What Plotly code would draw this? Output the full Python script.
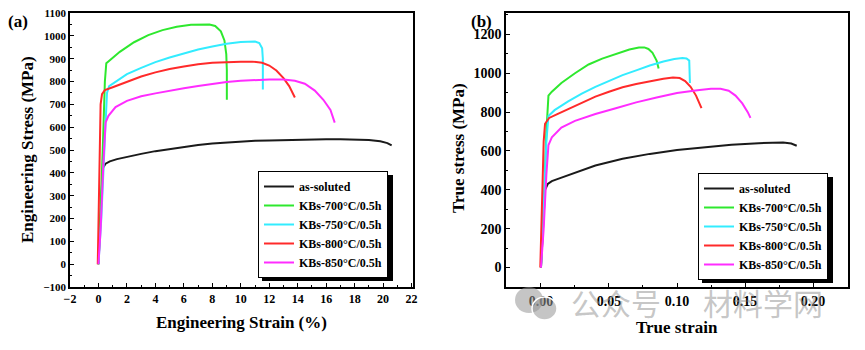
import plotly.graph_objects as go

W, H = 865, 350

names = ["as-soluted", "KBs-700°C/0.5h", "KBs-750°C/0.5h", "KBs-800°C/0.5h", "KBs-850°C/0.5h"]
colors = ["#1a1a1a", "#2ee82e", "#33ecff", "#ff2a2a", "#ff2cff"]

# ---- (a) engineering stress-strain ----
eng_x_soluted = [0, 0.15, 0.3, 0.5, 0.8, 1.3, 2, 3, 4, 5, 6, 7, 8, 9, 10, 11, 12, 13, 14, 15, 16, 17, 18, 19, 19.8, 20.3, 20.6]
eng_y_soluted = [0, 220, 420, 440, 450, 460, 470, 483, 495, 505, 515, 522, 528, 533, 537, 540, 542, 544, 545, 546, 547, 547, 546, 544, 538, 530, 520]
eng_x_700 = [0, 0.1, 0.3, 0.45, 0.55, 0.8, 1.5, 2.5, 3.5, 4.5, 5.5, 6.5, 7.2, 7.8, 8.2, 8.6, 8.85, 8.98, 9.02, 9.02]
eng_y_700 = [0, 150, 500, 800, 880, 893, 930, 972, 1003, 1025, 1040, 1049, 1051, 1050, 1043, 1020, 980, 920, 850, 720]
eng_x_750 = [0, 0.2, 0.45, 0.6, 0.75, 1.2, 2, 3, 4, 5, 6, 7, 8, 9, 10, 10.6, 11.0, 11.3, 11.5, 11.55, 11.55]
eng_y_750 = [0, 200, 550, 750, 780, 800, 832, 860, 885, 905, 922, 940, 953, 965, 973, 976, 975, 968, 945, 900, 765]
eng_x_800 = [-0.05, 0.05, 0.15, 0.25, 0.45, 1, 2, 3, 4, 5, 6, 7, 8, 9, 10, 10.8, 11.5, 12, 12.5, 13, 13.4, 13.8]
eng_y_800 = [0, 400, 700, 745, 762, 775, 800, 822, 840, 855, 866, 876, 882, 886, 887, 887, 882, 870, 848, 815, 780, 730]
eng_x_850 = [0, 0.15, 0.35, 0.5, 0.7, 1.2, 2, 3, 4, 5, 6, 7, 8, 9, 10, 11, 12, 13, 13.8, 14.5, 15.2, 15.8, 16.3, 16.6]
eng_y_850 = [0, 150, 450, 620, 650, 688, 715, 735, 748, 760, 770, 780, 790, 798, 803, 807, 809, 809, 803, 790, 760, 720, 675, 620]

# ---- (b) true stress-strain ----
true_x_soluted = [0, 0.0015, 0.003, 0.005, 0.008, 0.012, 0.02, 0.03, 0.04, 0.06, 0.08, 0.1, 0.12, 0.14, 0.16, 0.17, 0.178, 0.184, 0.188]
true_y_soluted = [0, 200, 400, 430, 445, 455, 475, 500, 525, 560, 585, 605, 620, 632, 640, 643, 643, 638, 627]
true_x_700 = [0, 0.002, 0.004, 0.0055, 0.008, 0.015, 0.025, 0.035, 0.045, 0.055, 0.065, 0.072, 0.076, 0.079, 0.082, 0.085, 0.0865]
true_y_700 = [0, 300, 700, 885, 905, 950, 1000, 1045, 1075, 1100, 1122, 1133, 1133, 1125, 1105, 1065, 1025]
true_x_750 = [0, 0.002, 0.004, 0.0055, 0.01, 0.02, 0.03, 0.04, 0.05, 0.06, 0.07, 0.08, 0.09, 0.098, 0.104, 0.107, 0.109, 0.1095, 0.1095]
true_y_750 = [0, 300, 650, 780, 810, 855, 895, 930, 960, 990, 1015, 1040, 1060, 1073, 1078, 1076, 1065, 1010, 950]
true_x_800 = [-0.0005, 0.001, 0.002, 0.003, 0.006, 0.012, 0.02, 0.03, 0.04, 0.05, 0.06, 0.07, 0.08, 0.09, 0.097, 0.102, 0.106, 0.11, 0.114, 0.118]
true_y_800 = [0, 400, 650, 740, 770, 790, 815, 850, 880, 905, 928, 945, 960, 972, 978, 975, 960, 930, 885, 820]
true_x_850 = [0, 0.002, 0.004, 0.0055, 0.008, 0.015, 0.025, 0.04, 0.055, 0.07, 0.085, 0.1, 0.115, 0.125, 0.132, 0.138, 0.143, 0.148, 0.152, 0.154]
true_y_850 = [0, 200, 480, 630, 670, 720, 755, 790, 820, 850, 875, 898, 913, 920, 920, 910, 885, 845, 800, 770]

eng_series = [(eng_x_soluted, eng_y_soluted), (eng_x_700, eng_y_700), (eng_x_750, eng_y_750),
              (eng_x_800, eng_y_800), (eng_x_850, eng_y_850)]
true_series = [(true_x_soluted, true_y_soluted), (true_x_700, true_y_700), (true_x_750, true_y_750),
               (true_x_800, true_y_800), (true_x_850, true_y_850)]

FONT = "Liberation Serif, Times New Roman, serif"

fig = go.Figure()
for i, (x, y) in enumerate(eng_series):
    fig.add_trace(go.Scatter(x=x, y=y, mode="lines", name=names[i], line=dict(color=colors[i], width=2),
                             xaxis="x", yaxis="y", legend="legend"))
for i, (x, y) in enumerate(true_series):
    fig.add_trace(go.Scatter(x=x, y=y, mode="lines", name=names[i], line=dict(color=colors[i], width=2),
                             xaxis="x2", yaxis="y2", legend="legend2"))


def px2fx(p):
    return p / W


def px2fy(p):
    return 1 - p / H


ydom = [px2fy(287), px2fy(13)]

axis_common = dict(showline=True, linecolor="black", linewidth=1.6, mirror=True, ticks="inside",
                   tickcolor="black", ticklen=4, tickwidth=1.2, showgrid=False, zeroline=False,
                   automargin=False)

fig.update_layout(
    width=W, height=H, margin=dict(l=0, r=0, t=0, b=0),
    paper_bgcolor="white", plot_bgcolor="white",
    font=dict(family=FONT, color="black"),
    xaxis=dict(domain=[px2fx(70), px2fx(413)], range=[-2, 22.1], dtick=2, tick0=0,
               tickfont=dict(size=12, weight="bold"),
               minor=dict(dtick=1, ticks="inside", ticklen=2, tickcolor="black"), anchor="y", **axis_common),
    yaxis=dict(domain=ydom, range=[-100, 1100], dtick=100, tick0=0,
               tickfont=dict(size=11, weight="bold"),
               minor=dict(dtick=50, ticks="inside", ticklen=2, tickcolor="black"), anchor="x", **axis_common),
    xaxis2=dict(domain=[px2fx(506), px2fx(848)], range=[-0.0257, 0.2257], dtick=0.05, tick0=0,
                tickformat=".2f", tickfont=dict(size=14, weight="bold"),
                minor=dict(dtick=0.025, ticks="inside", ticklen=2, tickcolor="black"), anchor="y2", **axis_common),
    yaxis2=dict(domain=ydom, range=[-100, 1310], dtick=200, tick0=0,
                tickfont=dict(size=14, weight="bold"),
                minor=dict(dtick=100, ticks="inside", ticklen=2, tickcolor="black"), anchor="x2", **axis_common),
    legend=dict(x=px2fx(258), y=px2fy(171), xanchor="left", yanchor="top", bgcolor="white",
                bordercolor="black", borderwidth=1, font=dict(size=12, weight="bold"),
                itemwidth=30, tracegroupgap=0),
    legend2=dict(x=px2fx(698), y=px2fy(173), xanchor="left", yanchor="top", bgcolor="white",
                 bordercolor="black", borderwidth=1, font=dict(size=12, weight="bold"),
                 itemwidth=30, tracegroupgap=0),
)

# legend shadows
fig.add_shape(type="rect", xref="paper", yref="paper", x0=px2fx(262), x1=px2fx(393), y0=px2fy(281), y1=px2fy(175),
              fillcolor="black", line=dict(width=0), layer="above")
fig.add_shape(type="rect", xref="paper", yref="paper", x0=px2fx(702), x1=px2fx(833), y0=px2fy(283), y1=px2fy(177),
              fillcolor="black", line=dict(width=0), layer="above")

ann = [
    dict(text="(a)", x=px2fx(18), y=px2fy(22), size=17),
    dict(text="(b)", x=px2fx(481), y=px2fy(22), size=17),
    dict(text="Engineering Strain (%)", x=px2fx(241), y=px2fy(322), size=17),
    dict(text="True strain", x=px2fx(677), y=px2fy(327), size=17),
]
for a in ann:
    fig.add_annotation(text=a["text"], x=a["x"], y=a["y"], xref="paper", yref="paper", showarrow=False,
                       xanchor="center", yanchor="middle", font=dict(size=a["size"], weight="bold", family=FONT))
fig.add_annotation(text="Engineering Stress (MPa)", x=px2fx(27), y=px2fy(150), xref="paper", yref="paper",
                   showarrow=False, textangle=-90, xanchor="center", yanchor="middle",
                   font=dict(size=17, weight="bold", family=FONT))
fig.add_annotation(text="True stress (MPa)", x=px2fx(458), y=px2fy(148), xref="paper", yref="paper",
                   showarrow=False, textangle=-90, xanchor="center", yanchor="middle",
                   font=dict(size=17, weight="bold", family=FONT))

# watermark
wm_color = "rgba(150,150,150,0.55)"
fig.add_shape(type="circle", xref="paper", yref="paper", x0=px2fx(515), x1=px2fx(543), y0=px2fy(313), y1=px2fy(287),
              fillcolor=wm_color, line=dict(width=0), layer="above")
fig.add_shape(type="circle", xref="paper", yref="paper", x0=px2fx(532), x1=px2fx(557), y0=px2fy(320), y1=px2fy(297),
              fillcolor=wm_color, line=dict(width=1.5, color="white"), layer="above")
fig.add_annotation(text="公众号", x=px2fx(616), y=px2fy(302), xref="paper", yref="paper", showarrow=False,
                   xanchor="center", yanchor="middle",
                   font=dict(size=30, family="Noto Sans CJK SC", color=wm_color))
fig.add_annotation(text="材料学网", x=px2fx(763), y=px2fy(302), xref="paper", yref="paper", showarrow=False,
                   xanchor="center", yanchor="middle",
                   font=dict(size=30, family="Noto Sans CJK SC", color=wm_color))

fig.write_html("out.html")
